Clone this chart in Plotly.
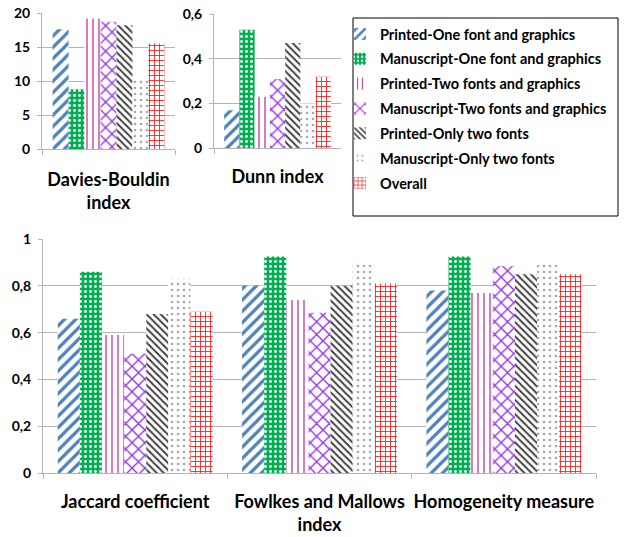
import plotly.graph_objects as go

series = ["Printed-One font and graphics", "Manuscript-One font and graphics",
          "Printed-Two fonts and graphics", "Manuscript-Two fonts and graphics",
          "Printed-Only two fonts", "Manuscript-Only two fonts", "Overall"]

cat_db = ["Davies-Bouldin<br>index"]
cat_dunn = ["Dunn index"]
cat_bottom = ["Jaccard coefficient", "Fowlkes and Mallows<br>index", "Homogeneity measure"]

davies_bouldin = [17.6, 8.8, 19.2, 18.7, 18.2, 10.3, 15.5]
dunn = [0.17, 0.53, 0.23, 0.31, 0.47, 0.20, 0.32]
jaccard = [0.66, 0.86, 0.59, 0.51, 0.68, 0.83, 0.69]
fowlkes = [0.80, 0.925, 0.74, 0.685, 0.80, 0.905, 0.81]
homogeneity = [0.78, 0.925, 0.77, 0.885, 0.85, 0.90, 0.85]

yt_db = [0, 5, 10, 15, 20]
yt_db_text = ["0", "5", "10", "15", "20"]
yt_dunn = [0, 0.2, 0.4, 0.6]
yt_dunn_text = ["0", "0,2", "0,4", "0,6"]
yt_bot = [0, 0.2, 0.4, 0.6, 0.8, 1.0]
yt_bot_text = ["0", "0,2", "0,4", "0,6", "0,8", "1"]

patterns = [
    dict(shape="/", fgcolor="#4f81bd", bgcolor="white", size=8, solidity=0.4),
    dict(shape=".", fgcolor="white", bgcolor="#00b050", size=5, solidity=0.25),
    dict(shape="|", fgcolor="#c0399f", bgcolor="white", size=6, solidity=0.22),
    dict(shape="x", fgcolor="#9933e6", bgcolor="white", size=9, solidity=0.28),
    dict(shape="\\", fgcolor="#404040", bgcolor="white", size=5, solidity=0.4),
    dict(shape=".", fgcolor="#a8a8a8", bgcolor="white", size=6, solidity=0.15),
    dict(shape="+", fgcolor="#ff1010", bgcolor="white", size=5, solidity=0.3),
]

fig = go.Figure()
for i, name in enumerate(series):
    for (xa, ya, cats, vals, show) in [
        ("x", "y", cat_db, [davies_bouldin[i]], True),
        ("x2", "y2", cat_dunn, [dunn[i]], False),
        ("x3", "y3", cat_bottom, [jaccard[i], fowlkes[i], homogeneity[i]], False),
    ]:
        fig.add_trace(go.Bar(
            x=cats, y=vals, name=name, xaxis=xa, yaxis=ya,
            legendgroup=name, showlegend=show,
            marker=dict(color=patterns[i]["bgcolor"], line=dict(width=0),
                        pattern=dict(fillmode="replace", **patterns[i])),
        ))

W, H = 624, 537
def px(x0, x1):
    return [x0 / W, x1 / W]
def py(ytop, ybot):
    return [1 - ybot / H, 1 - ytop / H]

tickfont = dict(family="Lato", size=14, color="black", weight="bold")
catfont = dict(family="Lato", size=18, color="black", weight="bold")
grid = "#b4b4b4"

def xax(domain, anchor, standoff):
    return dict(domain=domain, anchor=anchor, type="category", showline=True,
                linecolor=grid, linewidth=1, ticks="outside", tickson="boundaries",
                ticklen=5, tickcolor=grid, tickfont=catfont, showgrid=False,
                ticklabelstandoff=standoff, fixedrange=True, automargin=False,
                tickangle=0)

def yax(domain, anchor, rng, tv, tt):
    return dict(domain=domain, anchor=anchor, range=rng, tickvals=tv, ticktext=tt,
                showline=True, linecolor=grid, linewidth=1, ticks="outside",
                ticklen=4, tickcolor=grid, showgrid=True, gridcolor=grid,
                gridwidth=1, tickfont=tickfont, zeroline=False,
                ticklabelstandoff=4, automargin=False, fixedrange=True)

fig.update_layout(
    width=W, height=H, margin=dict(l=0, r=0, t=0, b=0, autoexpand=False),
    paper_bgcolor="white", plot_bgcolor="white",
    barmode="group", bargap=0.16, bargroupgap=0,
    xaxis=xax(px(42, 175), "y", 14),
    yaxis=yax(py(13, 149), "x", [0, 20], yt_db, yt_db_text),
    xaxis2=xax(px(214, 341), "y2", 12),
    yaxis2=yax(py(14, 148.3), "x2", [0, 0.6], yt_dunn, yt_dunn_text),
    xaxis3=xax(px(43, 596), "y3", 12),
    yaxis3=yax(py(239, 473.3), "x3", [0, 1.0], yt_bot, yt_bot_text),
    legend=dict(x=340 / W, y=1 - 18 / H, xanchor="left", yanchor="top",
                font=dict(family="Lato", size=14.5, color="black", weight="bold"),
                bgcolor="rgba(0,0,0,0)", borderwidth=0, tracegroupgap=3,
                itemwidth=30),
    shapes=[dict(type="rect", xref="paper", yref="paper",
                 x0=353 / W, x1=618 / W, y0=1 - 216 / H, y1=1 - 18 / H,
                 line=dict(color="black", width=1), fillcolor="rgba(0,0,0,0)")],
    showlegend=True,
    hovermode=False,
)

fig.write_html("out.html", config={"displayModeBar": False},
               post_script="document.body.style.margin='0';")
